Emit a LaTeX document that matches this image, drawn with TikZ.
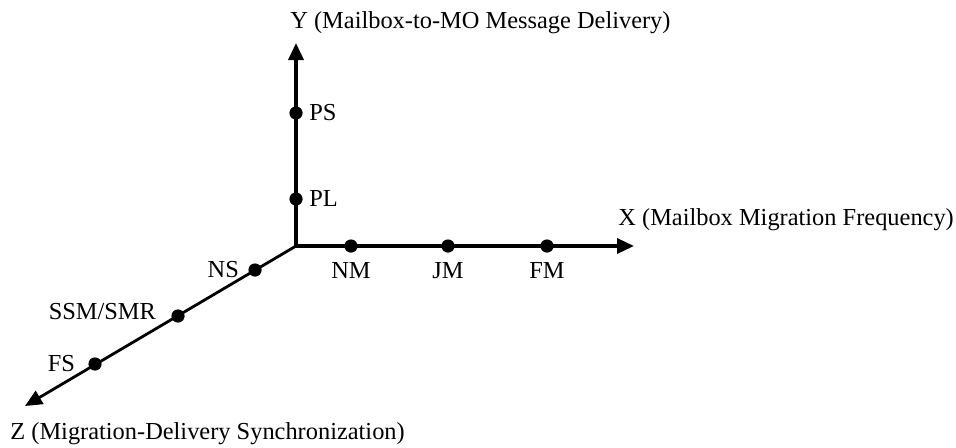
\documentclass[tikz,border=0pt]{standalone}
\usepackage{fontspec}
\setmainfont{Liberation Serif}
\usepackage{tikz}
\usetikzlibrary{arrows.meta,positioning}

\begin{document}
\begin{tikzpicture}[x=0.5pt,y=0.5pt,every node/.style={font=\fontsize{12.2}{14}\selectfont},axis/.style={-{Triangle[length=8.5pt,width=7.5pt]},line width=1.7pt,black},dot/.style={circle,fill=black,inner sep=0pt,minimum size=6.6pt},ttl/.style={anchor=base west,inner sep=0pt}]
\useasboundingbox (0,0) rectangle (956,447);
\coordinate (orig) at (296,201);
\coordinate (xend) at (634,201);
\coordinate (yend) at (296,404);
\coordinate (zend) at (25,41);
\draw[axis] (orig)--(xend);
\draw[axis] (orig)--(yend);
\draw[axis,line width=1.4pt] (orig)--(zend);
% points on the axes
\node[dot,label={[inner sep=3pt]right:PS}] (ps) at (296,334) {};
\node[dot,label={[inner sep=3pt]right:PL}] (pl) at (296,248) {};
\node[dot,label={[label distance=1pt]below:NM}] (nm) at (351,201) {};
\node[dot,label={[label distance=1pt]below:JM}] (jm) at (448,201) {};
\node[dot,label={[label distance=1pt]below:FM}] (fm) at (547,201) {};
\node[dot,label={[label distance=1pt]left:NS}] (ns) at (255,177) {};
\node[dot,label={[label distance=4pt,yshift=2pt]left:SSM/SMR}] (ssm) at (178,131) {};
\node[dot,label={[label distance=3pt]left:FS}] (fs) at (95,83) {};
% axis titles
\node[ttl] (ylab) at (290,419) {Y (Mailbox-to-MO Message Delivery)};
\node[ttl] (xlab) at (618,222) {X (Mailbox Migration Frequency)};
\node[ttl] (zlab) at (10,8) {Z (Migration-Delivery Synchronization)};
\end{tikzpicture}
\end{document}
